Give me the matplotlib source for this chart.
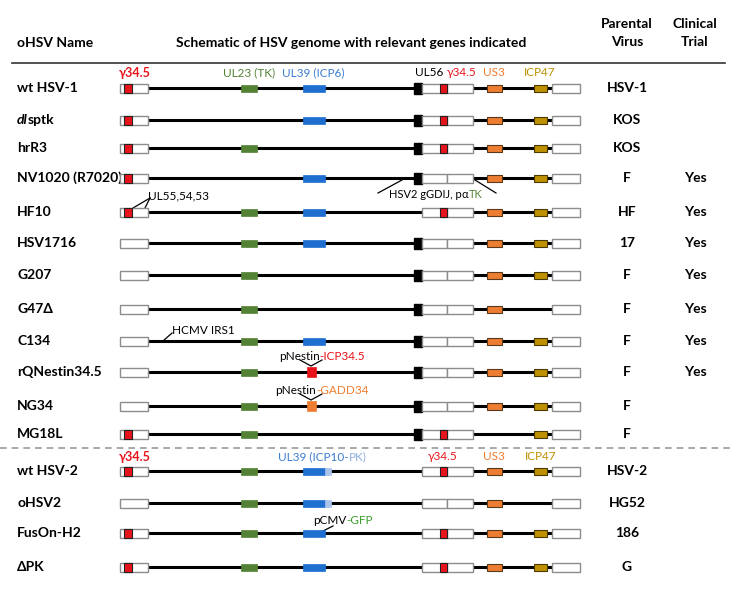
import matplotlib.pyplot as plt
from matplotlib.patches import Rectangle

plt.rcParams['font.family'] = ['Lato', 'DejaVu Sans']

# table data
names = ['wt HSV-1', 'dlsptk', 'hrR3', 'NV1020 (R7020)', 'HF10', 'HSV1716', 'G207',
         'G47Δ', 'C134', 'rQNestin34.5', 'NG34', 'MG18L',
         'wt HSV-2', 'oHSV2', 'FusOn-H2', 'ΔPK']
parental = ['HSV-1', 'KOS', 'KOS', 'F', 'HF', '17', 'F', 'F', 'F', 'F', 'F', 'F',
            'HSV-2', 'HG52', '186', 'G']
clinical = ['', '', '', 'Yes', 'Yes', 'Yes', 'Yes', 'Yes', 'Yes', 'Yes', '', '',
            '', '', '', '']

# gene present (1) / absent (0) per row
g345_left = [1, 1, 1, 1, 1, 0, 0, 0, 0, 0, 0, 1, 1, 0, 1, 1]
ul23 =      [1, 0, 1, 0, 1, 1, 1, 1, 1, 1, 1, 1, 1, 1, 1, 1]
ul39 =      [1, 1, 0, 1, 1, 1, 0, 0, 1, 0, 0, 0, 1, 1, 1, 1]
pk_ext =    [0, 0, 0, 0, 0, 0, 0, 0, 0, 0, 0, 0, 1, 1, 0, 0]
ul56 =      [1, 1, 1, 1, 0, 1, 1, 1, 1, 1, 1, 1, 0, 0, 0, 0]
g345_right = [1, 1, 1, 0, 1, 0, 0, 0, 0, 0, 0, 1, 1, 0, 1, 1]
us3 =       [1, 1, 1, 1, 1, 1, 1, 1, 1, 1, 1, 0, 1, 1, 1, 1]
icp47 =     [1, 1, 1, 1, 1, 1, 1, 0, 1, 1, 1, 1, 1, 0, 1, 1]
insert =    ['', '', '', '', '', '', '', '', '', 'red', 'orange', '', '', '', '', '']

row_y = [88, 120, 148, 178, 212, 243, 275, 309, 341, 372, 406, 434, 471, 503, 533, 567]

RED = '#E8141B'
GREEN = '#548235'
BLUE = '#1F6FD0'
LBLUE = '#A9C4EC'
ORANGE = '#ED7D31'
OLIVE = '#BF9000'
GRAY = '#8C8C8C'
HS = 10      # header / table font size
GS = 8.5     # gene label font size

fig = plt.figure(figsize=(7.3, 5.9), dpi=100)
ax = fig.add_axes([0, 0, 1, 1])
ax.set_xlim(0, 730)
ax.set_ylim(590, 0)
ax.axis('off')
renderer = fig.canvas.get_renderer()


def box(x0, x1, y, h, fc, ec=GRAY, lw=1.0, z=3):
    ax.add_patch(Rectangle((x0, y - h / 2), x1 - x0, h, facecolor=fc,
                           edgecolor=ec, linewidth=lw, zorder=z))


def rich(x, y, pieces, ha='left', size=GS, weight='normal', gap=0):
    # draws text made of differently coloured pieces
    inv = ax.transData.inverted()
    texts = []
    cur = x
    for s, c, st in pieces:
        t = ax.text(cur, y, s, color=c, va='center', ha='left', fontsize=size,
                    fontweight=weight, fontstyle=st, zorder=6)
        bb = t.get_window_extent(renderer)
        w = inv.transform((bb.x1, 0))[0] - inv.transform((bb.x0, 0))[0]
        texts.append(t)
        cur += w + gap
    if ha == 'center':
        shift = (cur - x) / 2
        for t in texts:
            t.set_x(t.get_position()[0] - shift)


# header
ax.text(17, 43, 'oHSV Name', fontsize=HS, fontweight='bold', va='center')
ax.text(351, 43, 'Schematic of HSV genome with relevant genes indicated',
        fontsize=HS, fontweight='bold', va='center', ha='center')
ax.text(627, 33, 'Parental\nVirus', fontsize=HS, fontweight='bold', va='center',
        ha='center', linespacing=1.5)
ax.text(695, 33, 'Clinical\nTrial', fontsize=HS, fontweight='bold', va='center',
        ha='center', linespacing=1.5)
ax.plot([12, 725], [63, 63], color='#333333', lw=1.2)
ax.plot([0, 730], [448, 448], color='#999999', lw=1.2, ls=(0, (4, 3)))

for i, y in enumerate(row_y):
    # name
    if names[i] == 'dlsptk':
        rich(17, y, [('dl', 'black', 'italic'), ('sptk', 'black', 'normal')],
             size=HS, weight='bold', gap=-0.5)
    else:
        ax.text(17, y, names[i], fontsize=HS, fontweight='bold', va='center')
    ax.text(627, y, parental[i], fontsize=HS, fontweight='bold', va='center',
            ha='center')
    ax.text(695, y, clinical[i], fontsize=HS, fontweight='bold', va='center',
            ha='center')

    # backbone
    ax.plot([148, 552], [y, y], color='black', lw=2.2, zorder=2)
    box(120, 148, y, 9, 'white')
    if g345_left[i]:
        box(124, 132, y, 9, RED, ec='#222222', lw=0.8)
    if ul23[i]:
        box(241, 257, y, 7, GREEN, ec=GREEN, lw=0.5)
    if ul39[i]:
        box(303, 325, y, 7, BLUE, ec=BLUE, lw=0.5)
        if pk_ext[i]:
            box(325, 331, y, 7, LBLUE, ec=LBLUE, lw=0.5)
    if insert[i]:
        c = RED if insert[i] == 'red' else ORANGE
        box(307, 316, y, 10, c, ec=c, lw=0.5)
    if ul56[i]:
        box(414, 422, y, 11, 'black', ec='black')
    box(422, 447, y, 9, 'white')
    box(447, 473, y, 9, 'white')
    if g345_right[i]:
        box(440, 447, y, 9, RED, ec='#222222', lw=0.8, z=4)
    if us3[i]:
        box(487, 502, y, 7, ORANGE, ec='#5a3a1a', lw=0.8)
    if icp47[i]:
        box(534, 547, y, 7, OLIVE, ec='#4a3a00', lw=0.8)
    box(552, 580, y, 9, 'white')

# gene labels, HSV-1
y0 = 73
ax.text(135, y0, 'γ34.5', color=RED, fontsize=GS + 0.5, fontweight='bold', ha='center', va='center')
ax.text(249, y0, 'UL23 (TK)', color=GREEN, fontsize=GS, ha='center', va='center')
ax.text(313, y0, 'UL39 (ICP6)', color='#3B7DD0', fontsize=GS, ha='center', va='center')
rich(415, y0, [('UL56 ', 'black', 'normal'), ('γ34.5', RED, 'normal')])
ax.text(494, y0, 'US3', color=ORANGE, fontsize=GS, ha='center', va='center')
ax.text(540, y0, 'ICP47', color=OLIVE, fontsize=GS, ha='center', va='center')

# gene labels, HSV-2
y1 = 457
ax.text(135, y1, 'γ34.5', color=RED, fontsize=GS + 0.5, fontweight='bold', ha='center', va='center')
rich(322, y1, [('UL39 (ICP10-', '#3B7DD0', 'normal'), ('PK)', '#8EAFE0', 'normal')],
     ha='center')
ax.text(443, y1, 'γ34.5', color=RED, fontsize=GS, ha='center', va='center')
ax.text(494, y1, 'US3', color=ORANGE, fontsize=GS, ha='center', va='center')
ax.text(541, y1, 'ICP47', color=OLIVE, fontsize=GS, ha='center', va='center')

# annotations
ax.plot([378, 402], [193, 180], color='black', lw=0.9)
ax.plot([475, 496], [180, 193], color='black', lw=0.9)
rich(389, 195, [('HSV2 gGDIJ, p', 'black', 'normal'), ('α', 'black', 'normal'),
                ('TK', GREEN, 'normal')], size=8)

ax.plot([133, 150], [208, 198], color='black', lw=0.9)
ax.plot([145, 150], [208, 198], color='black', lw=0.9)
ax.text(148, 196, 'UL55,54,53', fontsize=GS, va='center')

ax.plot([163, 172], [341, 333], color='black', lw=0.9)
ax.text(172, 331, 'HCMV IRS1', fontsize=GS, va='center')

ax.plot([300, 311, 322], [360, 366, 360], color='black', lw=0.9)
rich(322, 357, [('pNestin', 'black', 'normal'), ('-ICP34.5', RED, 'normal')],
     ha='center')
ax.plot([300, 311, 322], [394, 400, 394], color='black', lw=0.9)
rich(322, 390, [('pNestin', 'black', 'normal'), ('-GADD34', ORANGE, 'normal')],
     ha='center')

ax.plot([323, 333], [531, 526], color='black', lw=0.9)
rich(313, 520, [('pCMV', 'black', 'normal'), ('-GFP', '#3AA02A', 'normal')])

fig.savefig('out.png', dpi=100)
